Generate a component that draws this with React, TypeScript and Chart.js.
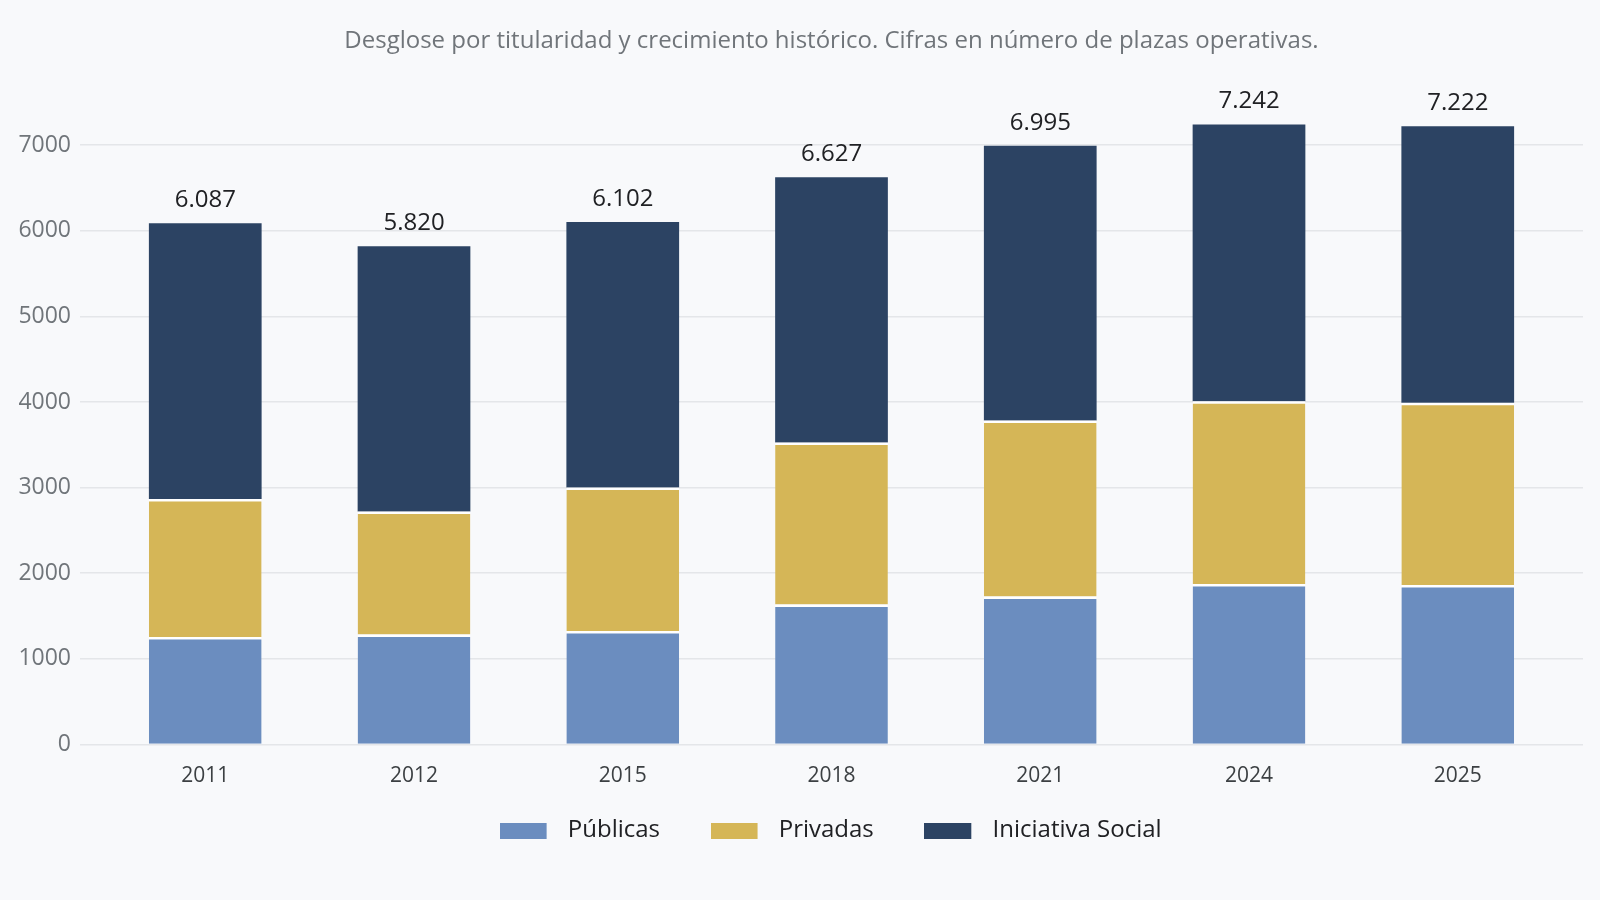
import React, { useEffect, useRef } from "react";
import { Chart, registerables } from "chart.js";

Chart.register(...registerables);

const years = ["2011", "2012", "2015", "2018", "2021", "2024", "2025"];
const publicas = [1256, 1285, 1324, 1633, 1727, 1873, 1861];
const privadas = [1610, 1435, 1678, 1894, 2057, 2136, 2131];
const social = [3221, 3100, 3100, 3100, 3211, 3233, 3230];
const yTicks = [0, 1000, 2000, 3000, 4000, 5000, 6000, 7000];
const seriesNames = ["Públicas", "Privadas", "Iniciativa Social"];
const seriesColors = ["#6b8dbf", "#d5b657", "#2c4363"];

const TITLE = "Desglose por titularidad y crecimiento histórico. Cifras en número de plazas operativas.";
const FONT = "'Open Sans', 'Noto Sans', sans-serif";

const fmt = (n: number) => String(n).replace(/\B(?=(\d{3})+(?!\d))/g, ".");

const totalsPlugin = {
  id: "totals",
  afterDatasetsDraw(chart: any) {
    const ctx = chart.ctx;
    const xs = chart.scales.x;
    const ys = chart.scales.y;
    ctx.save();
    ctx.font = `500 24px ${FONT}`;
    ctx.fillStyle = "#202124";
    ctx.textAlign = "center";
    ctx.textBaseline = "alphabetic";
    years.forEach((_, i) => {
      const total = publicas[i] + privadas[i] + social[i];
      ctx.fillText(fmt(total), xs.getPixelForValue(i), ys.getPixelForValue(total) - 16);
    });
    ctx.restore();
  },
};

// lift the legend a little closer to the axis labels
const legendLift = {
  id: "legendLift",
  afterLayout(chart: any) {
    const l = chart.legend;
    if (l) {
      l.top -= 22.4;
      l.bottom -= 22.4;
    }
  },
};

// legend swatch: coloured 47x16 block on the left of a slightly wider transparent canvas
function legendSwatch(color: string) {
  const c = document.createElement("canvas");
  c.width = 58;
  c.height = 16;
  const g = c.getContext("2d") as CanvasRenderingContext2D;
  g.fillStyle = color;
  g.fillRect(0, 0, 47, 16);
  return c;
}

export default function App() {
  const ref = useRef<HTMLCanvasElement | null>(null);

  useEffect(() => {
    document.body.style.margin = "0";
    const swatches = seriesColors.map(legendSwatch);
    const toPts = (arr: number[]) => arr.map((v, i) => ({ x: i, y: v }));
    const values = [publicas, privadas, social];
    const chart = new Chart(ref.current as HTMLCanvasElement, {
      type: "bar",
      data: {
        datasets: values.map((arr, k) => ({
          label: seriesNames[k],
          data: toPts(arr),
          backgroundColor: seriesColors[k],
          borderColor: "#ffffff",
          borderWidth: k < 2 ? { top: 2.5, left: 0, right: 0, bottom: 0 } : 0,
          borderSkipped: false,
        })),
      } as any,
      options: {
        animation: false,
        responsive: false,
        devicePixelRatio: 1,
        barPercentage: 0.54,
        categoryPercentage: 1,
        layout: { padding: { left: 0, right: 17, top: 0, bottom: 25 } },
        scales: {
          x: {
            type: "linear",
            stacked: true,
            min: -0.6,
            max: 6.6,
            offset: false,
            grid: { display: false, drawTicks: false, offset: false },
            border: { display: false },
            afterBuildTicks: (s: any) => {
              s.ticks = years.map((_, i) => ({ value: i }));
            },
            afterFit: (s: any) => {
              s.height = 44.3;
            },
            ticks: {
              padding: 19,
              color: "#3c4043",
              font: { family: FONT, size: 21 },
              callback: (v: any) => years[v] ?? "",
              autoSkip: false,
              maxRotation: 0,
            },
          },
          y: {
            stacked: true,
            min: 0,
            max: 7500,
            grid: { color: "#e4e6e9", lineWidth: 1.5, drawTicks: false },
            border: { display: false },
            afterFit: (s: any) => {
              s.width = 80;
            },
            afterBuildTicks: (s: any) => {
              s.ticks = yTicks.map((v) => ({ value: v }));
            },
            ticks: {
              padding: 9,
              color: "#70757a",
              font: { family: FONT, size: 23 },
              callback: (v: any) => String(v),
            },
          },
        } as any,
        plugins: {
          title: {
            display: true,
            text: TITLE,
            color: "#70757a",
            fullSize: false,
            font: { family: FONT, size: 24, weight: "normal" },
            padding: { top: 26.4, bottom: 47.2 },
          },
          legend: {
            position: "bottom",
            fullSize: false,
            labels: {
              usePointStyle: true,
              pointStyleWidth: 54.4,
              padding: 52.3,
              color: "#202124",
              font: { family: FONT, size: 24 },
              generateLabels: (ch: any) =>
                (Chart.defaults.plugins.legend.labels as any)
                  .generateLabels(ch)
                  .map((it: any) => ({ ...it, pointStyle: swatches[it.datasetIndex] })),
            },
          },
          tooltip: { enabled: false },
        } as any,
      },
      plugins: [totalsPlugin, legendLift],
    });
    return () => chart.destroy();
  }, []);

  return (
    <div style={{ width: 1600, height: 900, background: "#f8f9fb", position: "relative" }}>
      <canvas ref={ref} width={1600} height={900} style={{ display: "block" }} />
    </div>
  );
}
